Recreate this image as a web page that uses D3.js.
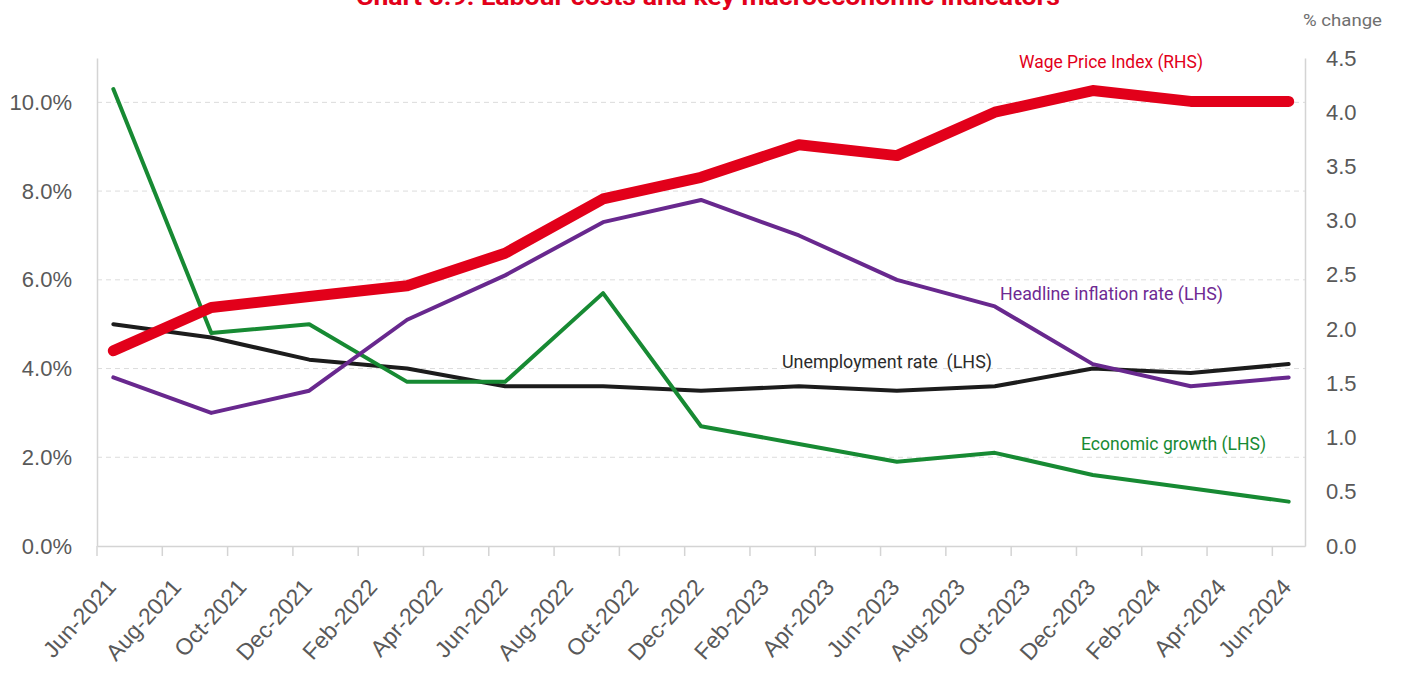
<!DOCTYPE html>
<html>
<head>
<meta charset="utf-8">
<script src="https://cdn.jsdelivr.net/npm/d3@7"></script>
<style>
  body { margin: 0; background: #fff; }
  svg { display: block; font-family: Roboto, "Open Sans", sans-serif; }
</style>
</head>
<body>
<svg id="canvas"></svg>
<script>
"use strict";

// quarterly observations
const quarters = ["Jun-2021", "Sep-2021", "Dec-2021", "Mar-2022", "Jun-2022", "Sep-2022", "Dec-2022",
  "Mar-2023", "Jun-2023", "Sep-2023", "Dec-2023", "Mar-2024", "Jun-2024"];
const wagePriceIndex = [1.8, 2.2, 2.3, 2.4, 2.7, 3.2, 3.4, 3.7, 3.6, 4.0, 4.2, 4.1, 4.1];
const inflation = [3.8, 3.0, 3.5, 5.1, 6.1, 7.3, 7.8, 7.0, 6.0, 5.4, 4.1, 3.6, 3.8];
const unemployment = [5.0, 4.7, 4.2, 4.0, 3.6, 3.6, 3.5, 3.6, 3.5, 3.6, 4.0, 3.9, 4.1];
const growth = [10.3, 4.8, 5.0, 3.7, 3.7, 5.7, 2.7, 2.3, 1.9, 2.1, 1.6, 1.3, 1.0];

const xTickLabels = ["Jun-2021", "Aug-2021", "Oct-2021", "Dec-2021", "Feb-2022", "Apr-2022", "Jun-2022",
  "Aug-2022", "Oct-2022", "Dec-2022", "Feb-2023", "Apr-2023", "Jun-2023", "Aug-2023", "Oct-2023",
  "Dec-2023", "Feb-2024", "Apr-2024", "Jun-2024"];
const leftTicks = [0, 2, 4, 6, 8, 10];
const rightTicks = [0, 0.5, 1, 1.5, 2, 2.5, 3, 3.5, 4, 4.5];

let width = 1402;
let height = 678;
let plotLeft = 97, plotRight = 1305, plotTop = 58, plotBottom = 546;

let canvas = d3.select('#canvas')
  .attr('width', width)
  .attr('height', height);

const fmtMonth = d3.timeFormat('%b-%Y');
const months = d3.timeMonth.range(new Date(2021, 5, 1), new Date(2024, 6, 1)).map(fmtMonth);

let xScale = d3.scaleBand()
  .domain(months)
  .range([plotLeft, plotRight])
  .padding(0);
let bw = xScale.bandwidth();

let yLeft = d3.scaleLinear().domain([0, 11]).range([plotBottom, plotTop]);
let yRight = d3.scaleLinear().domain([0, 4.5]).range([plotBottom, plotTop]);

// dashed gridlines
canvas.append('g')
  .selectAll('line')
  .data(leftTicks.filter(d => d > 0))
  .enter()
  .append('line')
  .attr('x1', plotLeft).attr('x2', plotRight)
  .attr('y1', d => yLeft(d)).attr('y2', d => yLeft(d))
  .attr('stroke', '#dcdcdc')
  .attr('stroke-width', 1)
  .attr('stroke-dasharray', '5,4');

// axes
let xAxis = d3.axisBottom(xScale)
  .tickValues(xTickLabels)
  .tickSize(10)
  .tickSizeOuter(0);

let xg = canvas.append('g')
  .attr('transform', 'translate(0,' + plotBottom + ')')
  .call(xAxis);
xg.select('.domain').attr('stroke', '#d4d4d4').attr('stroke-width', 1.5);
xg.selectAll('.tick line')
  .attr('stroke', '#d4d4d4')
  .attr('stroke-width', 1.5)
  .attr('transform', 'translate(' + (-bw / 2) + ',0)');
xg.selectAll('.tick text')
  .attr('fill', '#595959')
  .attr('font-size', '23px')
  .attr('text-anchor', 'end')
  .attr('dy', null)
  .attr('y', 0)
  .attr('transform', 'translate(4,42) rotate(-48)');

let yAxisL = d3.axisLeft(yLeft)
  .tickValues(leftTicks)
  .tickFormat(d => d3.format('.1f')(d) + '%')
  .tickSize(0)
  .tickPadding(25);
let ylg = canvas.append('g')
  .attr('transform', 'translate(' + plotLeft + ',0)')
  .call(yAxisL);
ylg.select('.domain').attr('stroke', '#d4d4d4').attr('stroke-width', 1.5);
ylg.selectAll('.tick text').attr('fill', '#595959').attr('font-size', '22px');

let yAxisR = d3.axisRight(yRight)
  .tickValues(rightTicks)
  .tickFormat(d3.format('.1f'))
  .tickSize(0)
  .tickPadding(21);
let yrg = canvas.append('g')
  .attr('transform', 'translate(' + plotRight + ',0)')
  .call(yAxisR);
yrg.select('.domain').attr('stroke', '#d4d4d4').attr('stroke-width', 1.5);
yrg.selectAll('.tick text').attr('fill', '#595959').attr('font-size', '22px');

// series
const series = [
  { values: unemployment, scale: yLeft, color: '#1c1c1c', w: 4 },
  { values: growth, scale: yLeft, color: '#178a33', w: 4 },
  { values: inflation, scale: yLeft, color: '#68288e', w: 4 },
  { values: wagePriceIndex, scale: yRight, color: '#e2001a', w: 11 }
];

series.forEach(s => {
  let line = d3.line()
    .x((d, i) => xScale(quarters[i]) + bw / 2)
    .y(d => s.scale(d));
  canvas.append('path')
    .datum(s.values)
    .attr('d', line)
    .attr('fill', 'none')
    .attr('stroke', s.color)
    .attr('stroke-width', s.w)
    .attr('stroke-linejoin', 'round')
    .attr('stroke-linecap', 'round');
});

// series labels
const labels = [
  { text: 'Wage Price Index (RHS)', x: 1019, y: 68, len: 184, color: '#e2001a' },
  { text: 'Headline inflation rate (LHS)', x: 1000, y: 300, len: 223, color: '#6f2a93' },
  { text: 'Unemployment rate  (LHS)', x: 782, y: 368, len: 210, color: '#2b2b2b' },
  { text: 'Economic growth (LHS)', x: 1081, y: 450, len: 185, color: '#178a33' }
];
canvas.append('g')
  .selectAll('text')
  .data(labels)
  .enter()
  .append('text')
  .attr('x', d => d.x)
  .attr('y', d => d.y)
  .attr('fill', d => d.color)
  .attr('font-size', '19px')
  .attr('textLength', d => d.len)
  .attr('lengthAdjust', 'spacingAndGlyphs')
  .style('white-space', 'pre')
  .text(d => d.text);

canvas.append('text')
  .attr('x', 1303).attr('y', 26)
  .attr('fill', '#707070')
  .attr('font-size', '17px')
  .attr('textLength', 79)
  .attr('lengthAdjust', 'spacingAndGlyphs')
  .text('% change');

// title (cut off at the top edge)
canvas.append('text')
  .attr('x', 356).attr('y', 5)
  .attr('fill', '#e2001a')
  .attr('font-size', '24px')
  .attr('font-weight', 'bold')
  .attr('textLength', 704)
  .attr('lengthAdjust', 'spacingAndGlyphs')
  .text('Chart 5.9: Labour costs and key macroeconomic indicators');
</script>
</body>
</html>
